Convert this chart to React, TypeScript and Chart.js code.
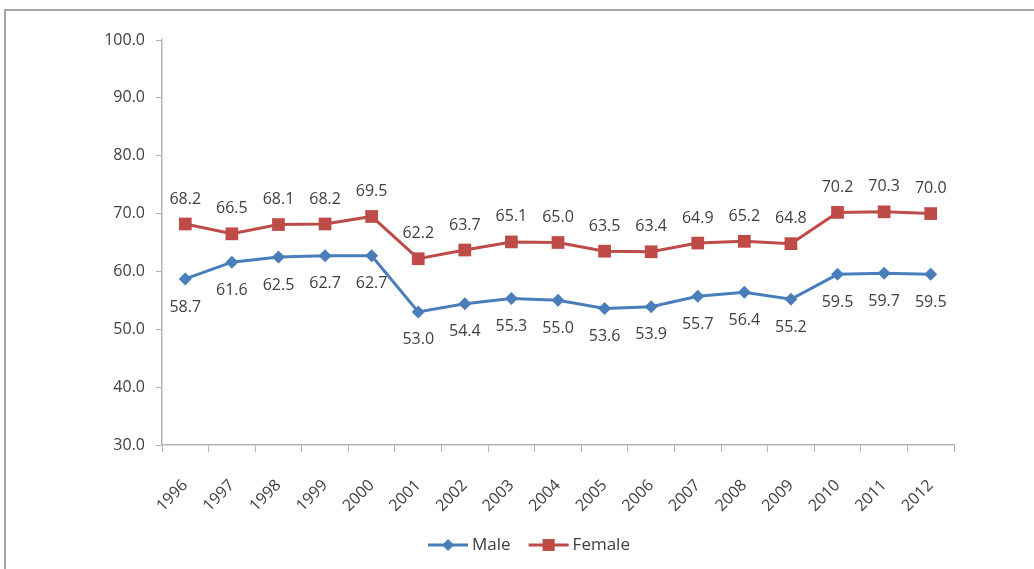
import React, { useEffect, useRef } from "react";
import { Chart, registerables } from "chart.js";

Chart.register(...registerables);

const years = ["1996", "1997", "1998", "1999", "2000", "2001", "2002", "2003", "2004", "2005", "2006", "2007", "2008", "2009", "2010", "2011", "2012"];
const maleValues = [58.7, 61.6, 62.5, 62.7, 62.7, 53.0, 54.4, 55.3, 55.0, 53.6, 53.9, 55.7, 56.4, 55.2, 59.5, 59.7, 59.5];
const femaleValues = [68.2, 66.5, 68.1, 68.2, 69.5, 62.2, 63.7, 65.1, 65.0, 63.5, 63.4, 64.9, 65.2, 64.8, 70.2, 70.3, 70.0];

const MALE_COLOR = "#4a7ebb";
const FEMALE_COLOR = "#be4b48";
const TEXT_COLOR = "#404040";
const AXIS_COLOR = "#b3b3b3";
const FONT_FAMILY = "'Open Sans', sans-serif";

// Line-plus-marker legend symbol
function drawSwatch(ctx: CanvasRenderingContext2D, x: number, y: number, w: number, color: string, marker: string) {
  ctx.strokeStyle = color;
  ctx.lineWidth = 3;
  ctx.beginPath();
  ctx.moveTo(x, y);
  ctx.lineTo(x + w, y);
  ctx.stroke();
  ctx.fillStyle = color;
  const cx = x + w / 2;
  if (marker === "rectRot") {
    ctx.beginPath();
    ctx.moveTo(cx, y - 6);
    ctx.lineTo(cx + 6, y);
    ctx.lineTo(cx, y + 6);
    ctx.lineTo(cx - 6, y);
    ctx.closePath();
    ctx.fill();
  } else {
    ctx.fillRect(cx - 6, y - 6, 12, 12);
  }
}

// Value labels: female above its points, male below
const valueLabels = {
  id: "valueLabels",
  afterDatasetsDraw(chart: any) {
    const ctx = chart.ctx;
    ctx.save();
    ctx.font = `16px ${FONT_FAMILY}`;
    ctx.fillStyle = TEXT_COLOR;
    ctx.textAlign = "center";
    ctx.textBaseline = "middle";
    chart.data.datasets.forEach((ds: any, di: number) => {
      const meta = chart.getDatasetMeta(di);
      const above = ds.label === "Female";
      meta.data.forEach((pt: any, i: number) => {
        const v = ds.data[i] as number;
        const y = above ? pt.y - 25 : pt.y + 28;
        ctx.fillText(v.toFixed(1), pt.x, y);
      });
    });
    ctx.restore();
  },
};

// Legend row centred under the chart
const lineLegend = {
  id: "lineLegend",
  afterDraw(chart: any) {
    const ctx = chart.ctx;
    const swatchW = 40;
    const textGap = 4;
    const itemGap = 18;
    ctx.save();
    ctx.font = `17px ${FONT_FAMILY}`;
    ctx.textBaseline = "middle";
    ctx.textAlign = "left";
    const items = chart.data.datasets.map((ds: any) => ({
      text: ds.label,
      color: ds.borderColor,
      marker: ds.pointStyle,
      w: ctx.measureText(ds.label).width,
    }));
    const total = items.reduce((s: number, it: any) => s + swatchW + textGap + it.w, 0) + itemGap * (items.length - 1);
    let x = chart.width / 2 + 12 - total / 2;
    const y = 545;
    items.forEach((it: any) => {
      drawSwatch(ctx, x, y, swatchW, it.color, it.marker);
      x += swatchW + textGap;
      ctx.fillStyle = TEXT_COLOR;
      ctx.fillText(it.text, x, y);
      x += it.w + itemGap;
    });
    ctx.restore();
  },
};

export default function App() {
  const ref = useRef<HTMLCanvasElement | null>(null);

  useEffect(() => {
    if (!ref.current) return;
    const chart = new Chart(ref.current, {
      type: "line",
      data: {
        labels: years,
        datasets: [
          {
            label: "Male",
            data: maleValues,
            borderColor: MALE_COLOR,
            backgroundColor: MALE_COLOR,
            borderWidth: 3,
            pointStyle: "rectRot",
            pointRadius: 6.5,
            pointBorderWidth: 0,
            pointBackgroundColor: MALE_COLOR,
            tension: 0,
          },
          {
            label: "Female",
            data: femaleValues,
            borderColor: FEMALE_COLOR,
            backgroundColor: FEMALE_COLOR,
            borderWidth: 3,
            pointStyle: "rect",
            pointRadius: 9,
            pointBorderWidth: 0,
            pointBackgroundColor: FEMALE_COLOR,
            tension: 0,
          },
        ],
      },
      options: {
        responsive: false,
        animation: false,
        devicePixelRatio: 1,
        layout: { padding: { left: 10, right: 80, top: 40, bottom: 54 } },
        scales: {
          x: {
            type: "category",
            offset: true,
            grid: {
              display: true,
              drawOnChartArea: false,
              drawTicks: true,
              tickLength: 7,
              color: AXIS_COLOR,
              offset: true,
            },
            border: { display: true, color: AXIS_COLOR, width: 1.5 },
            ticks: {
              minRotation: 45,
              maxRotation: 45,
              autoSkip: false,
              padding: 24,
              color: TEXT_COLOR,
              font: { family: FONT_FAMILY, size: 16 },
            },
            afterFit(scale: any) {
              scale.height = 70;
            },
          },
          y: {
            min: 30,
            max: 100,
            grid: {
              display: true,
              drawOnChartArea: false,
              drawTicks: true,
              tickLength: 6,
              color: AXIS_COLOR,
            },
            border: { display: true, color: AXIS_COLOR, width: 1.5 },
            ticks: {
              stepSize: 10,
              padding: 11,
              color: TEXT_COLOR,
              font: { family: FONT_FAMILY, size: 16 },
              callback: (v: any) => Number(v).toFixed(1),
            },
            afterFit(scale: any) {
              scale.width = 152;
            },
          },
        },
        plugins: {
          legend: { display: false },
          tooltip: { enabled: false },
        },
      },
      plugins: [valueLabels, lineLegend],
    });
    return () => chart.destroy();
  }, []);

  return (
    <div style={{ position: "fixed", left: 0, top: 0, width: 1034, height: 569, background: "#fff" }}>
      <div
        style={{
          position: "absolute",
          left: 4,
          top: 9,
          right: 0,
          bottom: 0,
          borderTop: "2px solid #a6a6a6",
          borderLeft: "2px solid #a6a6a6",
        }}
      />
      <canvas ref={ref} width={1034} height={569} style={{ position: "absolute", left: 0, top: 0 }} />
    </div>
  );
}
